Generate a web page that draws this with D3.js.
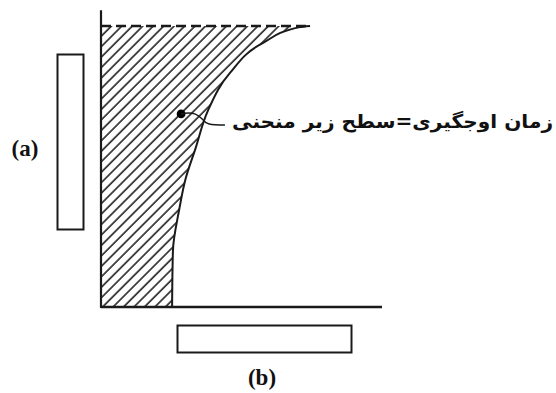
<!DOCTYPE html>
<html><head><meta charset="utf-8">
<script src="https://cdn.jsdelivr.net/npm/d3@7"></script>
<style>html,body{margin:0;padding:0;background:#fff;}svg{display:block;}</style>
</head><body>
<svg id="c" width="556" height="393"></svg>
<script>
// data (x in time units 0..10, y as fraction of plateau level)
const curveTime  = [2.53, 2.56, 2.78, 3.02, 3.35, 3.81, 4.59, 5.77, 7.08, 7.44];
const curveLevel = [0.00, 0.20, 0.345, 0.46, 0.56, 0.70, 0.833, 0.94, 0.996, 1.00];
const plateau = [1.0];
const annotationText = ["زمان اوجگیری=سطح زیر منحنی"];
const axisLabels = ["(a)", "(b)"];
const dotPoint = [2.85, 0.687];
const leaderEnd = [4.41, 0.648];

const svg = d3.select("#c");
const x = d3.scaleLinear().domain([0, 10]).range([101, 382]);
const y = d3.scaleLinear().domain([0, 1]).range([307, 26]);
const ink = "#1a1a1a";

const pts = curveTime.map((t, i) => ({t, v: curveLevel[i]}));

// hatch pattern
const defs = svg.append("defs");
const pat = defs.append("pattern").attr("id", "hatch").attr("patternUnits", "userSpaceOnUse")
  .attr("width", 7.4).attr("height", 20).attr("patternTransform", "rotate(45)");
pat.append("line").attr("x1", 1).attr("y1", 0).attr("x2", 1).attr("y2", 20)
  .attr("stroke", "#222").attr("stroke-width", 1.6);

// hatched area between y-axis and curve
const area = d3.area()
  .y(d => y(d.v))
  .x0(() => x(0))
  .x1(d => x(d.t))
  .curve(d3.curveMonotoneY);
svg.append("path").datum(pts).attr("d", area).attr("fill", "url(#hatch)");

// curve
const line = d3.line().x(d => x(d.t)).y(d => y(d.v)).curve(d3.curveMonotoneY);
svg.append("path").datum(pts).attr("d", line).attr("fill", "none")
  .attr("stroke", ink).attr("stroke-width", 2);

// dashed plateau
svg.selectAll(".plateau").data(plateau).join("line")
  .attr("x1", x(0)).attr("x2", x(d3.max(curveTime)))
  .attr("y1", d => y(d)).attr("y2", d => y(d))
  .attr("stroke", ink).attr("stroke-width", 2.6).attr("stroke-dasharray", "10,5");

// axes
svg.append("line").attr("x1", x(0)).attr("x2", x(0)).attr("y1", y(0) + 1).attr("y2", y(1.056))
  .attr("stroke", ink).attr("stroke-width", 2.2);
svg.append("line").attr("x1", x(0)).attr("x2", x(10)).attr("y1", y(0)).attr("y2", y(0))
  .attr("stroke", ink).attr("stroke-width", 2.6);

// annotation dot + leader
svg.append("circle").attr("cx", x(dotPoint[0])).attr("cy", y(dotPoint[1])).attr("r", 4.4).attr("fill", "#000");
const x0 = x(dotPoint[0]), y0 = y(dotPoint[1]), x1 = x(leaderEnd[0]), y1 = y(leaderEnd[1]);
const lp = d3.path();
lp.moveTo(x0, y0);
lp.bezierCurveTo(x0 + 14, y0 - 3, x0 + 18, y0 + 2, x0 + 22, y0 + 6);
lp.bezierCurveTo(x0 + 25, y0 + 10, x0 + 28, y1, x1, y1);
svg.append("path").attr("d", lp.toString()).attr("fill", "none").attr("stroke", ink).attr("stroke-width", 1.5);

// annotation text (RTL), right edge fixed, stretched to reference width
const tx = svg.append("text").text(annotationText[0])
  .attr("x", 553).attr("y", 128)
  .attr("direction", "rtl").attr("text-anchor", "start")
  .attr("font-family", "'DejaVu Sans', sans-serif").attr("font-weight", "bold")
  .attr("font-size", 19).attr("fill", "#111")
  .attr("textLength", 321).attr("lengthAdjust", "spacingAndGlyphs");

// axis title placeholder boxes
svg.append("rect").attr("x", 57.5).attr("y", 54.5).attr("width", 26).attr("height", 175)
  .attr("fill", "#fff").attr("stroke", ink).attr("stroke-width", 2);
svg.append("rect").attr("x", 177.5).attr("y", 325.5).attr("width", 174).attr("height", 27)
  .attr("fill", "#fff").attr("stroke", ink).attr("stroke-width", 2);

// labels
svg.append("text").text(axisLabels[0]).attr("x", 25).attr("y", 156)
  .attr("text-anchor", "middle").attr("font-family", "'Liberation Serif', serif")
  .attr("font-weight", "bold").attr("font-size", 23).attr("fill", "#111");
svg.append("text").text(axisLabels[1]).attr("x", 262).attr("y", 385)
  .attr("text-anchor", "middle").attr("font-family", "'Liberation Serif', serif")
  .attr("font-weight", "bold").attr("font-size", 23).attr("fill", "#111");
</script>
</body></html>
